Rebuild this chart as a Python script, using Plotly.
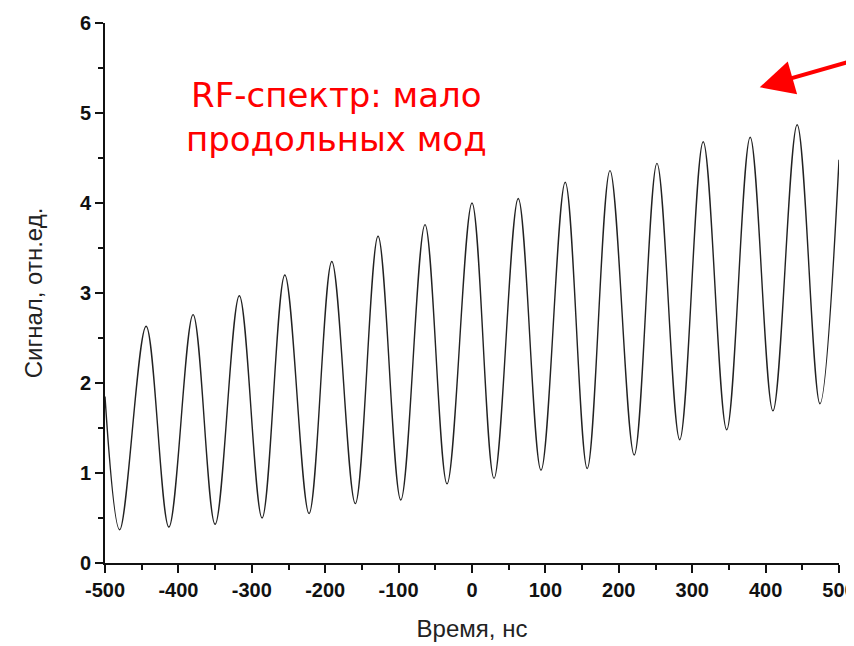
import plotly.graph_objects as go

# Extrema (and end points) of the signal
time_ns = [-500, -480, -444, -413, -380, -350, -317, -286, -255, -222, -191,
           -159, -128, -97, -64, -34, 0, 30, 63, 94, 127, 157, 188, 221, 252,
           283, 315, 347, 379, 410, 443, 474, 500]
signal = [1.85, 0.37, 2.63, 0.40, 2.76, 0.43, 2.97, 0.50, 3.20, 0.55, 3.35,
          0.66, 3.63, 0.70, 3.76, 0.88, 4.00, 0.94, 4.05, 1.03, 4.23, 1.05,
          4.36, 1.20, 4.44, 1.37, 4.68, 1.48, 4.73, 1.69, 4.87, 1.77, 4.48]

x_ticks = [-500, -400, -300, -200, -100, 0, 100, 200, 300, 400, 500]
y_ticks = [0, 1, 2, 3, 4, 5, 6]

fig = go.Figure()
fig.add_trace(go.Scatter(
    x=time_ns, y=signal, mode="lines",
    line=dict(color="#222222", width=1.4, shape="spline", smoothing=1.0),
    showlegend=False, hoverinfo="skip"))

tick_font = dict(family="Liberation Sans, Arial, sans-serif", size=20,
                 color="#111111", weight="bold")
title_font = dict(family="Liberation Sans, Arial, sans-serif", size=24,
                  color="#222222")

fig.update_xaxes(
    range=[-500, 500], tickmode="array", tickvals=x_ticks,
    ticktext=[str(v) for v in x_ticks], ticklabeloverflow="allow",
    ticks="outside", ticklen=8, tickwidth=2, tickcolor="#111",
    minor=dict(dtick=50, tick0=-500, ticks="outside", ticklen=5,
               tickwidth=2, tickcolor="#111"),
    showline=True, linewidth=2, linecolor="#111",
    showgrid=False, zeroline=False, tickfont=tick_font,
    title=dict(text="Время, нс", font=title_font, standoff=20))

fig.update_yaxes(
    range=[0, 6], tickmode="array", tickvals=y_ticks,
    ticktext=[str(v) for v in y_ticks], ticklabeloverflow="allow",
    ticks="outside", ticklen=8, tickwidth=2, tickcolor="#111",
    minor=dict(dtick=0.5, tick0=0, ticks="outside", ticklen=5,
               tickwidth=2, tickcolor="#111"),
    showline=True, linewidth=2, linecolor="#111",
    showgrid=False, zeroline=False, tickfont=tick_font,
    title=dict(text="Сигнал, отн.ед.", font=title_font, standoff=30))

fig.add_annotation(
    xref="paper", yref="paper", x=0.316, y=0.826,
    text="RF-спектр: мало<br>продольных мод", showarrow=False,
    font=dict(family="DejaVu Sans, sans-serif", size=34, color="#ff0000"),
    align="center", xanchor="center", yanchor="middle")

fig.add_annotation(
    xref="paper", yref="paper", x=0.892, y=0.881, text="",
    showarrow=True, arrowhead=2, arrowsize=1.7, arrowwidth=4,
    arrowcolor="#ff0000", ax=100, ay=-27)

fig.update_layout(
    width=846, height=638,
    margin=dict(l=97, r=15, t=15, b=83, autoexpand=False),
    paper_bgcolor="white", plot_bgcolor="white")

fig.write_html("out.html")
